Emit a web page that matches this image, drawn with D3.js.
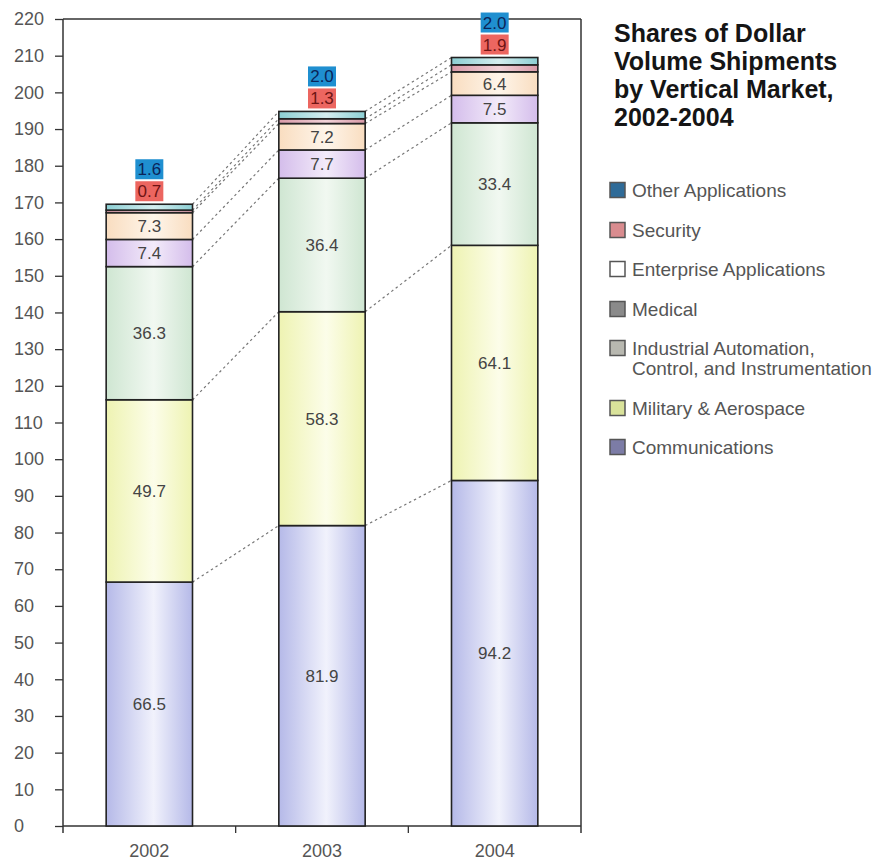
<!DOCTYPE html>
<html>
<head>
<meta charset="utf-8">
<script src="https://cdn.jsdelivr.net/npm/d3@7"></script>
<style>
  body { margin: 0; background: #fff; }
  text { font-family: "Liberation Sans", Arial, sans-serif; }
</style>
</head>
<body>
<div id="chart"></div>
<script>
// data
const years = ["2002", "2003", "2004"];
const communications = [66.5, 81.9, 94.2];
const military = [49.7, 58.3, 64.1];
const industrial = [36.3, 36.4, 33.4];
const medical = [7.4, 7.7, 7.5];
const enterprise = [7.3, 7.2, 6.4];
const security = [0.7, 1.3, 1.9];
const other = [1.6, 2.0, 2.0];
const yTicks = [0, 10, 20, 30, 40, 50, 60, 70, 80, 90, 100, 110, 120, 130, 140, 150, 160, 170, 180, 190, 200, 210, 220];
const titleLines = ["Shares of Dollar", "Volume Shipments", "by Vertical Market,", "2002-2004"];

// stacking order, bottom to top
const keys = ["comm", "mil", "ind", "med", "ent", "sec", "oth"];
const series = {
  comm: communications, mil: military, ind: industrial, med: medical,
  ent: enterprise, sec: security, oth: other
};
// bar fill: edge colour and centre colour of the cylinder gradient
const fills = {
  comm: ["#b5b9e8", "#f1f2fc"],
  mil: ["#eef3b2", "#fcfde9"],
  ind: ["#cfe6d2", "#f1f8f1"],
  med: ["#d4bdeb", "#f3ebfa"],
  ent: ["#f9ddc0", "#fef5ea"],
  sec: ["#d99aa8", "#f1d2d8"],
  oth: ["#8ccfd3", "#d5eef0"]
};
// legend, top to bottom
const legendItems = [
  { lines: ["Other Applications"], color: "#2f6b98" },
  { lines: ["Security"], color: "#d98c8f" },
  { lines: ["Enterprise Applications"], color: "#ffffff" },
  { lines: ["Medical"], color: "#8a8a8a" },
  { lines: ["Industrial Automation,", "Control, and Instrumentation"], color: "#b8b8b0" },
  { lines: ["Military & Aerospace"], color: "#d9e29a" },
  { lines: ["Communications"], color: "#7c7ca6" }
];

const data = years.map((yr, i) => {
  const row = { year: yr };
  keys.forEach((k) => (row[k] = series[k][i]));
  return row;
});

const W = 889, H = 863;
const plot = { left: 63, right: 581, top: 19, bottom: 826 };

const svg = d3
  .select("#chart")
  .append("svg")
  .attr("width", W)
  .attr("height", H);

const defs = svg.append("defs");
keys.forEach((k) => {
  const g = defs
    .append("linearGradient")
    .attr("id", "grad-" + k)
    .attr("x1", "0%").attr("x2", "100%")
    .attr("y1", "0%").attr("y2", "0%");
  g.append("stop").attr("offset", "0%").attr("stop-color", fills[k][0]);
  g.append("stop").attr("offset", "55%").attr("stop-color", fills[k][1]);
  g.append("stop").attr("offset", "100%").attr("stop-color", fills[k][0]);
});

const x = d3
  .scaleBand()
  .domain(years)
  .range([plot.left, plot.right])
  .paddingInner(0.5)
  .paddingOuter(0.25);

const y = d3.scaleLinear().domain([0, 220]).range([plot.bottom, plot.top]);

const stacked = d3.stack().keys(keys)(data);

// frame (top and right)
svg.append("line")
  .attr("x1", plot.left).attr("x2", plot.right)
  .attr("y1", plot.top).attr("y2", plot.top)
  .attr("stroke", "#333").attr("stroke-width", 1.5);
svg.append("line")
  .attr("x1", plot.right).attr("x2", plot.right)
  .attr("y1", plot.top).attr("y2", plot.bottom + 7)
  .attr("stroke", "#333").attr("stroke-width", 1.5);

// y axis
const yAxis = svg
  .append("g")
  .attr("transform", `translate(${plot.left},0)`)
  .call(d3.axisLeft(y).tickValues(yTicks).tickSize(8).tickSizeOuter(0));
yAxis.select(".domain").remove();
yAxis.selectAll("line").attr("stroke", "#333").attr("stroke-width", 1.3);
yAxis
  .selectAll("text")
  .attr("x", -49)
  .attr("text-anchor", "start")
  .style("font-size", "18px")
  .style("font-family", "'Liberation Sans', Arial, sans-serif")
  .attr("fill", "#555");
svg.append("line")
  .attr("x1", plot.left).attr("x2", plot.left)
  .attr("y1", plot.top).attr("y2", plot.bottom + 7)
  .attr("stroke", "#333").attr("stroke-width", 1.5);

// x axis: line, ticks between the years, year labels
svg.append("line")
  .attr("x1", plot.left).attr("x2", plot.right)
  .attr("y1", plot.bottom).attr("y2", plot.bottom)
  .attr("stroke", "#333").attr("stroke-width", 1.5);
years.slice(1).forEach((yr) => {
  const tx = x(yr) + x.bandwidth() / 2 - x.step() / 2;
  svg.append("line")
    .attr("x1", tx).attr("x2", tx)
    .attr("y1", plot.bottom).attr("y2", plot.bottom + 7)
    .attr("stroke", "#333").attr("stroke-width", 1.3);
});
svg.append("g")
  .selectAll("text")
  .data(years)
  .join("text")
  .attr("x", (d) => x(d) + x.bandwidth() / 2)
  .attr("y", 857)
  .attr("text-anchor", "middle")
  .style("font-size", "18px")
  .attr("fill", "#555")
  .text((d) => d);

// dotted connectors between bars
const conn = svg.append("g");
stacked.forEach((s) => {
  for (let i = 0; i < years.length - 1; i++) {
    conn.append("line")
      .attr("x1", x(years[i]) + x.bandwidth())
      .attr("y1", y(s[i][1]))
      .attr("x2", x(years[i + 1]))
      .attr("y2", y(s[i + 1][1]))
      .attr("stroke", "#777")
      .attr("stroke-width", 1.2)
      .attr("stroke-dasharray", "2.5,3");
  }
});

// bars
svg.append("g")
  .selectAll("g")
  .data(stacked)
  .join("g")
  .attr("fill", (d) => `url(#grad-${d.key})`)
  .selectAll("rect")
  .data((d) => d)
  .join("rect")
  .attr("x", (d) => x(d.data.year))
  .attr("y", (d) => y(d[1]))
  .attr("width", x.bandwidth())
  .attr("height", (d) => y(d[0]) - y(d[1]))
  .attr("stroke", "#222")
  .attr("stroke-width", 1.6);

// labels inside the big segments
const inside = ["comm", "mil", "ind", "med", "ent"];
stacked
  .filter((s) => inside.includes(s.key))
  .forEach((s) => {
    svg.append("g")
      .selectAll("text")
      .data(s)
      .join("text")
      .attr("x", (d) => x(d.data.year) + x.bandwidth() / 2)
      .attr("y", (d) => y((d[0] + d[1]) / 2) + 6)
      .attr("text-anchor", "middle")
      .style("font-size", "17px")
      .attr("fill", "#444")
      .text((d) => d3.format(".1f")(d[1] - d[0]));
  });

// boxed labels above the bars for Security and Other
const topOf = stacked[stacked.length - 1];
const boxW = 28, boxH = 20;
const boxes = [
  { key: "sec", fill: "#ec6660", text: "#6e1414", row: 0 },
  { key: "oth", fill: "#1f8fd0", text: "#0b2458", row: 1 }
];
boxes.forEach((b) => {
  const vals = series[b.key];
  const g = svg.append("g");
  g.selectAll("rect")
    .data(years)
    .join("rect")
    .attr("x", (d) => x(d) + x.bandwidth() / 2 - boxW / 2)
    .attr("y", (d, i) => y(topOf[i][1]) - 3 - (b.row + 1) * boxH - b.row * 2)
    .attr("width", boxW)
    .attr("height", boxH)
    .attr("fill", b.fill);
  g.selectAll("text")
    .data(years)
    .join("text")
    .attr("x", (d) => x(d) + x.bandwidth() / 2)
    .attr("y", (d, i) => y(topOf[i][1]) - 3 - b.row * (boxH + 2) - boxH / 2 + 6)
    .attr("text-anchor", "middle")
    .style("font-size", "17px")
    .attr("fill", b.text)
    .text((d, i) => d3.format(".1f")(vals[i]));
});

// title
svg.append("text")
  .attr("x", 614)
  .attr("y", 42)
  .style("font-size", "25px")
  .style("font-weight", "bold")
  .attr("fill", "#151515")
  .selectAll("tspan")
  .data(titleLines)
  .join("tspan")
  .attr("x", 614)
  .attr("dy", (d, i) => (i === 0 ? 0 : 28))
  .text((d) => d);

// legend
const legendY = [190, 230, 269, 309, 348, 408, 447];
const legend = svg.append("g");
legendItems.forEach((item, i) => {
  legend.append("rect")
    .attr("x", 610)
    .attr("y", legendY[i] - 7.5)
    .attr("width", 15)
    .attr("height", 15)
    .attr("fill", item.color)
    .attr("stroke", "#555")
    .attr("stroke-width", 1.5);
  item.lines.forEach((ln, j) => {
    legend.append("text")
      .attr("x", 632)
      .attr("y", legendY[i] + 7 + j * 20)
      .style("font-size", "19px")
      .attr("fill", "#555")
      .text(ln);
  });
});
</script>
</body>
</html>
